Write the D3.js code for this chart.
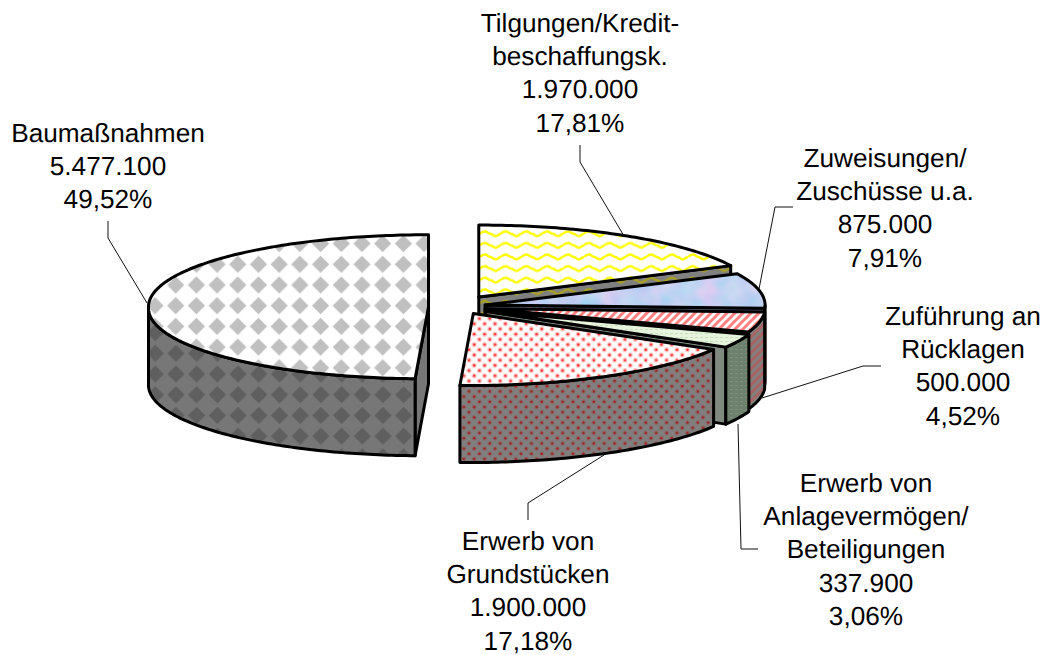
<!DOCTYPE html>
<html>
<head>
<meta charset="utf-8">
<script src="https://cdn.jsdelivr.net/npm/d3@7"></script>
<style>
  html, body { margin: 0; padding: 0; background: #fff; }
  svg { display: block; }
</style>
</head>
<body>
<svg id="chart" width="1047" height="655"></svg>
<script>
// clockwise from 12 o'clock
const labelLines = [
  ["Tilgungen/Kredit-", "beschaffungsk."],
  ["Zuweisungen/", "Zuschüsse u.a."],
  ["Zuführung an", "Rücklagen"],
  ["Erwerb von", "Anlagevermögen/", "Beteiligungen"],
  ["Erwerb von", "Grundstücken"],
  ["Baumaßnahmen"]
];
const values = [1970000, 875000, 500000, 337900, 1900000, 5477100];

const W = 1047, H = 655;
const cx = 465.5, cy = 307, rx = 280, ry = 72, depth = 77;
const tilt = 0.47, lean = 5;
const explode = [25, 20, 20, 22, 16, 37];

// label centre, first baseline, leader polyline
const labelPos = [
  { x: 580, y: 32 },
  { x: 885, y: 167 },
  { x: 963, y: 325 },
  { x: 866, y: 492 },
  { x: 528, y: 550 },
  { x: 108, y: 142 }
];
const leaders = [
  [[580, 145], [580, 162], [624, 236]],
  [[793, 207], [775, 207], [759, 289]],
  [[881, 366], [863, 366], [762, 398]],
  [[758, 549], [741, 549], [738, 424]],
  [[528, 520], [528, 503], [604, 455]],
  [[108, 221], [108, 238], [147, 303]]
];

const de = d3.formatLocale({ decimal: ",", thousands: ".", grouping: [3], currency: ["", "€"] });
const fmtValue = de.format(",d");
const fmtPct = de.format(".2f");
const total = d3.sum(values);

const svg = d3.select("#chart");
const defs = svg.append("defs");

function pattern(id, w, h, bg, x0, y0) {
  const p = defs.append("pattern").attr("id", id)
    .attr("patternUnits", "userSpaceOnUse")
    .attr("width", w).attr("height", h)
    .attr("x", x0 || 0).attr("y", y0 || 0);
  p.append("rect").attr("width", w).attr("height", h).attr("fill", bg);
  return p;
}

function diamonds(id, bg, fg, x0, y0) {
  const s = 20.7, r = 8.6;
  const p = pattern(id, s, s, bg, x0, y0);
  p.append("path").attr("fill", fg)
    .attr("d", `M${s / 2},${s / 2 - r}L${s / 2 + r},${s / 2}L${s / 2},${s / 2 + r}L${s / 2 - r},${s / 2}Z`);
}
diamonds("p-bau-top", "#fff", "#c0c0c0", 144.65, 295.35);
diamonds("p-bau-wall", "#777", "#5f5f5f", 186.35, 343);

function waves(id, bg, fg) {
  const p = pattern(id, 20.8, 11.6, bg, 480, 228);
  p.append("path").attr("fill", "none").attr("stroke", fg).attr("stroke-width", 2.4)
    .attr("d", "M0,5.8 C2,3.4 3.2,3.4 5.2,3.4 C7.2,3.4 8.4,5.8 10.4,5.8 C12.4,5.8 13.6,8.2 15.6,8.2 C17.6,8.2 18.8,5.8 20.8,5.8");
}
waves("p-til-top", "#fff", "#ffff00");
waves("p-til-wall", "#808080", "#a8a020");

function stripes(id, bg, fg) {
  const p = pattern(id, 8, 8, bg);
  p.append("path").attr("stroke", fg).attr("stroke-width", 3)
    .attr("d", "M-2,10L10,-2M-2,2L2,-2M6,10L10,6");
}
stripes("p-zuf-top", "#fff", "#ff8080");
stripes("p-zuf-wall", "#808080", "#a86464");

function fineGreen(id, bg, fg) {
  const p = pattern(id, 5, 4, bg);
  p.append("path").attr("stroke", fg).attr("stroke-width", 1).attr("d", "M0,1.5H3");
}
fineGreen("p-anl-top", "#e6f4de", "#c8e0ba");
fineGreen("p-anl-wall", "#6e806e", "#7c9078");

function dots(id, bg, halo, core) {
  const s = 10.4;
  const p = pattern(id, s, s, bg, 456, 316);
  [[s / 4, s / 4], [3 * s / 4, 3 * s / 4]].forEach(([x, y]) => {
    p.append("circle").attr("cx", x).attr("cy", y).attr("r", 2.5).attr("fill", halo);
    p.append("circle").attr("cx", x).attr("cy", y).attr("r", 1.2).attr("fill", core);
  });
}
dots("p-gru-top", "#fff", "#ffc4c4", "#ff2a2a");
dots("p-gru-wall", "#808080", "#8a6c6c", "#a01c1c");

// mottled blue/lilac texture
const f = defs.append("filter").attr("id", "mottle")
  .attr("color-interpolation-filters", "sRGB")
  .attr("x", 0).attr("y", 0).attr("width", 1).attr("height", 1);
f.append("feTurbulence").attr("type", "fractalNoise").attr("baseFrequency", 0.05)
  .attr("numOctaves", 2).attr("seed", 4).attr("result", "n");
f.append("feColorMatrix").attr("in", "n").attr("type", "matrix")
  .attr("values", "0.35 0 0 0 0.58  0 0.12 0 0 0.76  0 0 0 0 0.95  0 0 0 0 1").attr("result", "c");
f.append("feComposite").attr("in", "c").attr("in2", "SourceAlpha").attr("operator", "in");

const styles = [
  { top: "url(#p-til-top)", wall: "url(#p-til-wall)", side: "url(#p-til-wall)" },
  { top: "#c8d4f4", wall: "#6f7890", side: "#5c6478", filter: "url(#mottle)" },
  { top: "url(#p-zuf-top)", wall: "url(#p-zuf-wall)", side: "#505050" },
  { top: "url(#p-anl-top)", wall: "url(#p-anl-wall)", side: "#808a80" },
  { top: "url(#p-gru-top)", wall: "url(#p-gru-wall)", side: "#808080" },
  { top: "url(#p-bau-top)", wall: "url(#p-bau-wall)", side: "#777" }
];

const pie = d3.pie().sort(null).startAngle(0).endAngle(2 * Math.PI);
const arcs = pie(values);
const line = d3.line();

function apex(d) {
  const mid = (d.startAngle + d.endAngle) / 2;
  const e = explode[d.index];
  return [cx + e * Math.sin(mid), cy - e * Math.cos(mid) * tilt];
}
function rim(d, a, dy) {
  const [x, y] = apex(d);
  // the front of the rim leans left a little, as in the original's perspective
  return [x + rx * Math.sin(a) + lean * Math.min(0, Math.cos(a)), y - ry * Math.cos(a) + (dy || 0)];
}
function rimPoints(d, a0, a1, dy) {
  const n = Math.max(2, Math.ceil((a1 - a0) * 60));
  return d3.range(n + 1).map(i => rim(d, a0 + (a1 - a0) * i / n, dy));
}
function sideWall(d, a) {
  const [x, y] = apex(d);
  return [[x, y], rim(d, a), rim(d, a, depth), [x, y + depth]];
}

const g = svg.append("g")
  .attr("stroke", "#000").attr("stroke-width", 3).attr("stroke-linejoin", "round");

arcs.forEach(d => {
  const st = styles[d.index];
  const s = g.append("g");

  // radial faces, only the ones turned towards the viewer
  if (Math.sin(d.endAngle) > 0.001) {
    s.append("path").attr("fill", st.side).attr("d", line(sideWall(d, d.endAngle)) + "Z");
  }
  if (Math.sin(d.startAngle) < -0.001) {
    s.append("path").attr("fill", st.side).attr("d", line(sideWall(d, d.startAngle)) + "Z");
  }

  // outer wall: front half of the rim only
  const a0 = Math.max(d.startAngle, Math.PI / 2);
  const a1 = Math.min(d.endAngle, 3 * Math.PI / 2);
  if (a1 > a0) {
    const pts = rimPoints(d, a0, a1, 0).concat(rimPoints(d, a0, a1, depth).reverse());
    s.append("path").attr("fill", st.wall).attr("d", line(pts) + "Z");
  }

  // top face
  const topPts = [apex(d)].concat(rimPoints(d, d.startAngle, d.endAngle, 0));
  if (st.filter) {
    s.append("path").attr("fill", st.top).attr("stroke", "none").attr("filter", st.filter).attr("d", line(topPts) + "Z");
    s.append("path").attr("fill", "none").attr("d", line(topPts) + "Z");
  } else {
    s.append("path").attr("fill", st.top).attr("d", line(topPts) + "Z");
  }
});

// leader lines
svg.append("g").selectAll("path").data(leaders).join("path")
  .attr("fill", "none").attr("stroke", "#111").attr("stroke-width", 1)
  .attr("d", d => line(d));

// labels
const lab = svg.append("g")
  .style("font-family", "'Liberation Sans',Arial,sans-serif")
  .style("font-size", "26.2px").style("fill", "#000")
  .style("text-rendering", "geometricPrecision")
  .attr("text-anchor", "middle");

labelLines.forEach((ls, i) => {
  const all = ls.concat([fmtValue(values[i]), fmtPct(values[i] / total * 100) + "%"]);
  const t = lab.append("text");
  all.forEach((s, j) => {
    t.append("tspan").attr("x", labelPos[i].x).attr("y", labelPos[i].y + j * 33.2).text(s);
  });
});
</script>
</body>
</html>
